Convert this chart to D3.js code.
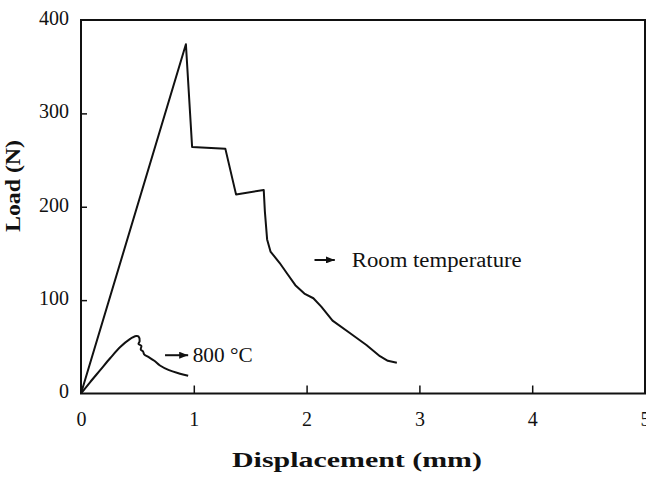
<!DOCTYPE html>
<html>
<head>
<meta charset="utf-8">
<script src="https://cdn.jsdelivr.net/npm/d3@7"></script>
<style>
  body { margin: 0; background: #fff; }
  svg { display: block; font-family: "Liberation Serif", "Times New Roman", serif; }
</style>
</head>
<body>
<svg id="chart" width="646" height="477"></svg>
<script>
// Load-displacement curves.
const roomDisp = [0, 0.93, 0.985, 1.28, 1.375, 1.62, 1.63, 1.65, 1.68, 1.76, 1.83, 1.90, 1.98, 2.06, 2.13, 2.23, 2.38, 2.53, 2.65, 2.72, 2.80];
const roomLoad = [0, 374, 264, 262, 213, 218, 195, 165, 152, 140, 128, 116, 107, 102, 93, 78, 65, 52, 40, 35, 33];

const hotDisp = [0, 0.08, 0.17, 0.26, 0.35, 0.43, 0.49, 0.51, 0.52, 0.51, 0.535, 0.53, 0.55, 0.56, 0.60, 0.65, 0.70, 0.78, 0.87, 0.95];
const hotLoad = [0, 12, 25, 38, 50, 58, 61.5, 61, 56, 53, 51, 47, 45, 42, 39, 35, 30, 25, 21.5, 19];

const xTicks = [0, 1, 2, 3, 4, 5];
const yTicks = [0, 100, 200, 300, 400];

// annotation anchors, in data units
const labels = [
  { text: "Room temperature", x0: 2.07, x1: 2.25, tx: 2.40, load: 143, len: 170 },
  { text: "800 °C", x0: 0.745, x1: 0.95, tx: 0.99, load: 41, len: 60 }
];

const svg = d3.select("#chart");
const plot = { left: 81, top: 20, right: 645, bottom: 393.5 };

const x = d3.scaleLinear().domain([0, 5]).range([plot.left, plot.right]);
const y = d3.scaleLinear().domain([0, 400]).range([plot.bottom, plot.top]);

// frame
svg.append("rect")
  .attr("x", x(0)).attr("y", y(400))
  .attr("width", x(5) - x(0)).attr("height", y(0) - y(400))
  .attr("fill", "none").attr("stroke", "#111").attr("stroke-width", 2);

const xAxis = svg.append("g")
  .attr("transform", `translate(0,${plot.bottom})`)
  .call(d3.axisBottom(x).tickValues(xTicks).tickSize(-8).tickPadding(18).tickFormat(d3.format("d")));
const yAxis = svg.append("g")
  .attr("transform", `translate(${plot.left},0)`)
  .call(d3.axisLeft(y).tickValues(yTicks).tickSize(-6).tickPadding(12).tickFormat(d3.format("d")));

[xAxis, yAxis].forEach(a => {
  a.select(".domain").remove();
  a.selectAll(".tick line").attr("stroke", "#111").attr("stroke-width", 1.5);
  a.selectAll(".tick text")
    .attr("fill", "#111")
    .style("font-family", "'Liberation Serif', serif")
    .style("font-size", "20px");
});
xAxis.selectAll(".tick line").filter(d => d === 0 || d === 5).remove();
yAxis.selectAll(".tick line").filter(d => d === 0 || d === 400).remove();
yAxis.selectAll(".tick text").attr("dy", "0.22em");

const line = d3.line().x(d => x(d[0])).y(d => y(d[1]));

svg.append("path")
  .datum(d3.zip(roomDisp, roomLoad))
  .attr("fill", "none").attr("stroke", "#111").attr("stroke-width", 2)
  .attr("stroke-linejoin", "round")
  .attr("d", line);

svg.append("path")
  .datum(d3.zip(hotDisp, hotLoad))
  .attr("fill", "none").attr("stroke", "#111").attr("stroke-width", 2)
  .attr("stroke-linejoin", "round")
  .attr("d", line.curve(d3.curveCatmullRom)); 

svg.append("defs").append("marker")
  .attr("id", "head")
  .attr("viewBox", "0 0 10 10")
  .attr("refX", 10).attr("refY", 5)
  .attr("markerWidth", 9).attr("markerHeight", 7)
  .attr("markerUnits", "userSpaceOnUse")
  .attr("orient", "auto")
  .attr("preserveAspectRatio", "none")
  .append("path").attr("d", "M0,0L10,5L0,10Z").attr("fill", "#111");

labels.forEach(l => {
  svg.append("line")
    .attr("x1", x(l.x0)).attr("x2", x(l.x1))
    .attr("y1", y(l.load)).attr("y2", y(l.load))
    .attr("stroke", "#111").attr("stroke-width", 2)
    .attr("marker-end", "url(#head)");
  svg.append("text")
    .attr("x", x(l.tx)).attr("y", y(l.load) + 7)
    .attr("font-size", 20).attr("fill", "#111")
    .attr("textLength", l.len).attr("lengthAdjust", "spacingAndGlyphs")
    .text(l.text);
});

svg.append("text")
  .attr("x", 357).attr("y", 467)
  .attr("text-anchor", "middle")
  .attr("font-size", 22).attr("font-weight", "bold").attr("fill", "#111")
  .attr("textLength", 250).attr("lengthAdjust", "spacingAndGlyphs")
  .text("Displacement (mm)");

svg.append("text")
  .attr("transform", "translate(20,186) rotate(-90)")
  .attr("text-anchor", "middle")
  .attr("font-size", 20).attr("font-weight", "bold").attr("fill", "#111")
  .attr("textLength", 92).attr("lengthAdjust", "spacingAndGlyphs")
  .text("Load (N)");
</script>
</body>
</html>
